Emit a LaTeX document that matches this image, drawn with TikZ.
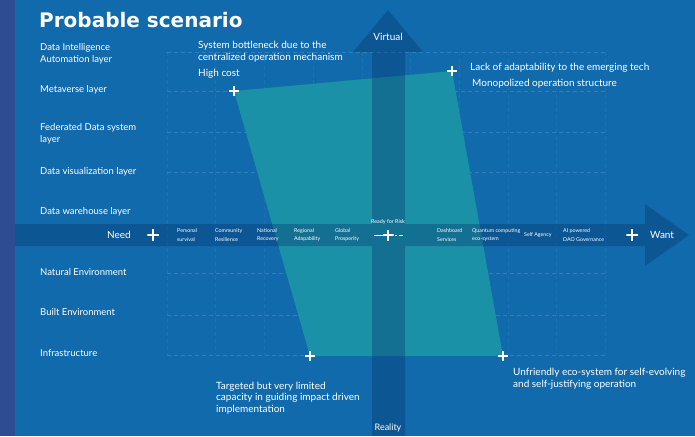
\documentclass[tikz,border=0pt]{standalone}
\usepackage{fontspec}
\setmainfont{Lato}
\newfontfamily\titlefont{DejaVu Sans}
\definecolor{bgblue}{RGB}{16,106,172}
\definecolor{stripblue}{RGB}{46,76,146}
\definecolor{bandblue}{RGB}{6,44,100}
\definecolor{quadteal}{RGB}{27,145,168}

\begin{document}
\begin{tikzpicture}[x=1pt,y=-1pt,
  lbl/.style={font=\fontsize{9.5}{12}\selectfont, text=white, anchor=west, inner sep=0pt, align=left},
  note/.style={font=\fontsize{10}{11.8}\selectfont, text=white, anchor=west, inner sep=0pt, align=left},
  tick/.style={font=\fontsize{5.3}{8.6}\selectfont, text=white, anchor=west, inner sep=0pt, align=left},
  ends/.style={font=\fontsize{10}{12}\selectfont, text=white, inner sep=0pt},
  gridline/.style={white, opacity=0.14, line width=0.6pt, dash pattern=on 4pt off 3pt},
  plus/.style={minimum size=10.5pt, inner sep=0pt, path picture={
    \fill[white] ([xshift=-1.2pt]path picture bounding box.north) rectangle ([xshift=1.2pt]path picture bounding box.south);
    \fill[white] ([yshift=-1.2pt]path picture bounding box.west) rectangle ([yshift=1.2pt]path picture bounding box.east);}}]
\useasboundingbox (0,0) rectangle (695,436);
\fill[bgblue] (0,0) rectangle (695,436);
\fill[stripblue] (0,0) rectangle (15,436);
% grid
\foreach \y in {52,91,132,172,273,315,355}
  \draw[gridline] (167,\y) -- (605,\y);
\foreach \x in {0,...,9}
  \draw[gridline, opacity=0.06] (167+48.7*\x,52) -- (167+48.7*\x,355);
% scenario area
\coordinate (mv) at (234,91);
\coordinate (la) at (452,71);
\coordinate (ue) at (503,356);
\coordinate (tg) at (310,356);
\fill[quadteal] (mv) -- (la) -- (ue) -- (tg) -- cycle;
% axes
\fill[bandblue, opacity=0.32]
  (15,224) -- (645,224) -- (645,204) -- (689,235) -- (645,266) -- (645,246) -- (15,246) -- cycle
  (372,436) -- (372,52) -- (353,52) -- (388,10) -- (423,52) -- (405,52) -- (405,436) -- cycle;
\node[ends] (virtual) at (388,37) {Virtual};
\node[ends, font=\fontsize{9}{12}\selectfont] (reality) at (388,428) {Reality};
\node[ends, anchor=east] (need) at (131,235) {Need};
\node[ends, anchor=west] (want) at (650,235) {Want};
\node[plus, minimum size=11.5pt] (pneed) at (153,235) {};
\node[plus, minimum size=11.5pt] (pwant) at (632,235) {};
% ready for risk
\coordinate (rrl) at (374,235);
\coordinate (rrr) at (403,235);
\draw[white, line width=0.7pt, dash pattern=on 9pt off 2pt on 8pt off 2pt on 2pt off 2pt] (rrl) -- (rrr);
\node[plus, minimum size=11pt] (center) at (388,235) {};
\node[tick, anchor=center, font=\fontsize{5.4}{6}\selectfont] (risk) at (388,222) {Ready for Risk};
% axis steps
\node[tick] (t1) at (177,235) {Personal\\survival};
\node[tick] (t2) at (215,235) {Community\\Resilience};
\node[tick] (t3) at (257,235) {National\\Recovery};
\node[tick] (t4) at (294,235) {Regional\\Adapability};
\node[tick] (t5) at (335,235) {Global\\Prosperity};
\node[tick] (t6) at (437,235) {Dashboard\\Services};
\node[tick] (t7) at (472,235) {Quantum computing\\eco-system};
\node[tick] (t8) at (524,235) {Self Agency};
\node[tick] (t9) at (563,235) {AI powered\\DAO Governance};
% corner marks
\node[plus] (pmv) at (mv) {};
\node[plus] (pla) at (la) {};
\node[plus] (pue) at (ue) {};
\node[plus] (ptg) at (tg) {};
% title and layers
\node[anchor=west, inner sep=0pt, text=white, font=\titlefont\bfseries\fontsize{20}{24}\selectfont] (title) at (39,20) {Probable scenario};
\node[lbl] (l1) at (40,54) {Data Intelligence\\Automation layer};
\node[lbl] (l2) at (40,90) {Metaverse layer};
\node[lbl] (l3) at (40,134) {Federated Data system\\layer};
\node[lbl] (l4) at (40,172) {Data visualization layer};
\node[lbl] (l5) at (40,212) {Data warehouse layer};
\node[lbl] (l6) at (40,272) {Natural Environment};
\node[lbl] (l7) at (40,312) {Built Environment};
\node[lbl] (l8) at (40,353) {Infrastructure};
% notes
\node[note] (n1) at (198,52) {System bottleneck due to the\\centralized operation mechanism};
\node[note] (n2) at (198,74) {High cost};
\node[note] (n3) at (470,68) {Lack of adaptability to the emerging tech};
\node[note] (n4) at (472,84) {Monopolized operation structure};
\node[note] (n5) at (216,398) {Targeted but very limited\\capacity in guiding impact driven\\implementation};
\node[note] (n6) at (513,379) {Unfriendly eco-system for self-evolving\\and self-justifying operation};
\end{tikzpicture}
\end{document}
